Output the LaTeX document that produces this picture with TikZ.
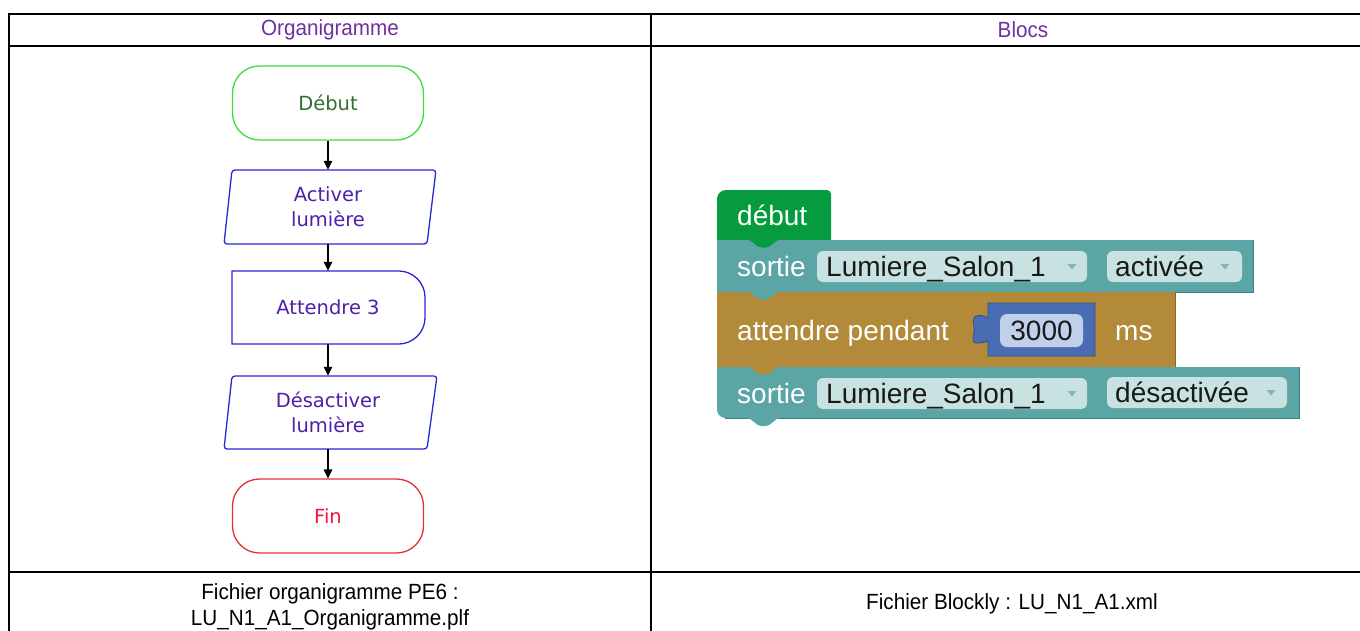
\documentclass[tikz,border=0pt]{standalone}
\usepackage{fontspec}
\setmainfont{Liberation Sans}
\newfontfamily\fcfont{DejaVu Sans}
\newfontfamily\narrowfont[FakeStretch=0.94]{Liberation Sans}
\usetikzlibrary{arrows.meta,calc}
\definecolor{hdrpurple}{RGB}{112,48,160}
\definecolor{fgreen}{RGB}{60,220,60}
\definecolor{fgreentxt}{RGB}{50,110,50}
\definecolor{fblue}{RGB}{40,40,215}
\definecolor{fbluetxt}{RGB}{80,30,170}
\definecolor{fred}{RGB}{225,50,50}
\definecolor{fredtxt}{RGB}{240,20,60}
\definecolor{bgreen}{RGB}{5,155,62}
\definecolor{bteal}{RGB}{91,165,165}
\definecolor{btealdark}{RGB}{62,125,125}
\definecolor{bbrown}{RGB}{178,138,58}
\definecolor{bbrowndark}{RGB}{138,104,38}
\definecolor{bblue}{RGB}{74,108,178}
\definecolor{bbluedark}{RGB}{50,80,140}
\definecolor{tealfield}{RGB}{200,226,226}
\definecolor{bluefield}{RGB}{192,208,234}
\definecolor{ddarrow}{RGB}{130,182,182}
\definecolor{fieldtxt}{RGB}{25,25,25}
\newcommand{\btab}[3]{\fill[#3] (#1,#2) .. controls +(5,0) and +(-5,0) .. ++(14,8) -- ++(5,0) .. controls +(5,0) and +(-5,0) .. ++(14,-8) -- cycle;}
\newcommand{\ddtri}[2]{\fill[ddarrow] (#1-4.5,#2-2.5) -- (#1+4.5,#2-2.5) -- (#1,#2+3) -- cycle;}
\begin{document}
\begin{tikzpicture}[x=1pt,y=-1pt,
  tbl/.style={line width=2pt,black},
  hdr/.style={text=hdrpurple,font=\narrowfont\fontsize{22}{26}\selectfont,inner sep=0pt},
  foot/.style={text=black,font=\narrowfont\fontsize{22}{26}\selectfont,inner sep=0pt,align=center},
  fctxt/.style={font=\fcfont\fontsize{19.5}{25}\selectfont,align=center,inner sep=0pt},
  term/.style={fctxt,draw,line width=1.3pt,rounded corners=27pt,minimum width=191pt,minimum height=74pt},
  ghost/.style={fctxt,minimum width=196pt,minimum height=74pt},
  fshape/.style={draw=fblue,line width=1.3pt},
  arr/.style={line width=1.4pt,black,-{Triangle[length=9pt,width=8.5pt]}},
  btxt/.style={font=\fontsize{28}{32}\selectfont,inner sep=0pt,anchor=base west},
  fieldbox/.style={fill=tealfield,rounded corners=6pt},
]
\useasboundingbox (0,0) rectangle (1360,630);
% table
\draw[tbl] (8.5,14) -- (1400,14);
\draw[tbl] (8.5,45.5) -- (1400,45.5);
\draw[tbl] (8.5,571.5) -- (1400,571.5);
\draw[tbl] (8.5,13) -- (8.5,640);
\draw[tbl] (651,13) -- (651,640);
\node[hdr] (h1) at (330,30) {Organigramme};
\node[hdr] (h2) at (1023,30) {Blocs};
\node[foot] (f1) at (330,607) {Fichier organigramme PE6 :\\LU\_N1\_A1\_Organigramme.plf};
\node[foot] (f2) at (1012,604) {Fichier Blockly : LU\_N1\_A1.xml};
% flowchart
\node[term,draw=fgreen,text=fgreentxt] (deb) at (328,103) {Début};
\draw[fshape,rounded corners=3pt] (232,170) -- (436,170) -- (427,244) -- (224,244) -- cycle;
\node[ghost,text=fbluetxt] (act) at (328,207) {Activer\\lumière};
\draw[fshape] (232,271) -- (399,271) .. controls (413,271) and (425,283) .. (425,297) -- (425,318) .. controls (425,332) and (413,344) .. (399,344) -- (232,344) -- cycle;
\node[ghost,text=fbluetxt,minimum height=73pt] (att) at (328,307.5) {Attendre 3};
\draw[fshape,rounded corners=3pt] (232,376) -- (437,376) -- (427,449) -- (224,449) -- cycle;
\node[ghost,text=fbluetxt,minimum height=73pt] (des) at (328,412.5) {Désactiver\\lumière};
\node[term,draw=fred,text=fredtxt] (fin) at (328,516) {Fin};
\draw[arr] (deb.south) -- (deb.south |- act.north);
\draw[arr] (act.south) -- (act.south |- att.north);
\draw[arr] (att.south) -- (att.south |- des.north);
\draw[arr] (des.south) -- (des.south |- fin.north);
% blockly
\fill[bgreen] (717,241) -- (717,199) .. controls (717,194) and (721,190) .. (726,190) -- (827,190) .. controls (829,190) and (831,192) .. (831,194) -- (831,241) -- cycle;
\fill[bteal] (717,240) rectangle (1253,292);
\draw[btealdark,line width=1pt] (1253,240) -- (1253,292) -- (717,292);
\fill[bbrown] (717,292) rectangle (1175,367);
\draw[bbrowndark,line width=1pt] (1175,292) -- (1175,367) -- (717,367);
\fill[bteal] (717,367) -- (1299,367) -- (1299,418) -- (725,418) .. controls (721,418) and (717,414) .. (717,410) -- cycle;
\draw[btealdark,line width=1pt] (1299,367) -- (1299,418) -- (725,418);
\btab{747}{239.5}{bgreen}
\btab{747}{291.5}{bteal}
\btab{747}{366.5}{bbrown}
\btab{747}{418}{bteal}
% number block
\filldraw[fill=bblue,draw=bbluedark,line width=0.8pt] (988,303) -- (1095,303) -- (1095,356) -- (988,356) -- (988,341)
  .. controls (984,343) and (979,343) .. (976,343) .. controls (972,343) and (973,338) .. (974,332)
  .. controls (975,327) and (972,322) .. (974,318) .. controls (975,315) and (982,314) .. (988,318) -- cycle;
\fill[bluefield,rounded corners=7pt] (1000,314) rectangle (1083,347);
% fields
\fill[fieldbox] (817,251) rectangle (1087,282);
\fill[fieldbox] (1107,251) rectangle (1242,282);
\fill[fieldbox] (817,378) rectangle (1087,409);
\fill[fieldbox] (1107,377) rectangle (1287,408);
\ddtri{1072}{266.5}
\ddtri{1225}{266.5}
\ddtri{1072}{393.5}
\ddtri{1271}{392.5}
\node[btxt,text=white] (t1) at (737,225) {début};
\node[btxt,text=white] (t2) at (737,276.5) {sortie};
\node[btxt,text=fieldtxt] (t3) at (826,276.5) {Lumiere\_Salon\_1};
\node[btxt,text=fieldtxt] (t4) at (1115,276.5) {activée};
\node[btxt,text=white] (t5) at (737,340) {attendre pendant};
\node[btxt,text=fieldtxt,anchor=base] (t6) at (1041.5,340) {3000};
\node[btxt,text=white] (t7) at (1115,340) {ms};
\node[btxt,text=white] (t8) at (737,403.5) {sortie};
\node[btxt,text=fieldtxt] (t9) at (826,403.5) {Lumiere\_Salon\_1};
\node[btxt,text=fieldtxt] (t10) at (1115,402.5) {désactivée};
\end{tikzpicture}
\end{document}
